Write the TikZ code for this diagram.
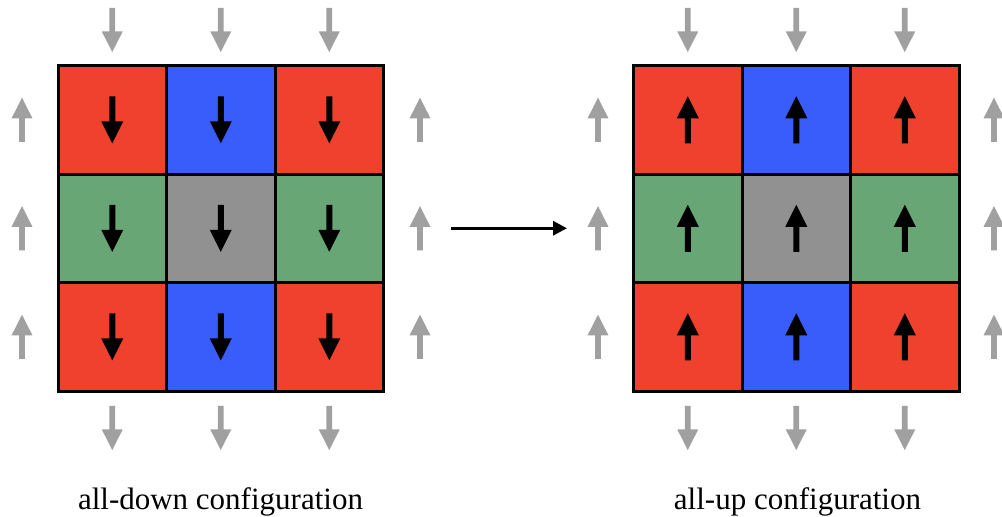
\documentclass[tikz,border=0pt]{standalone}
\usepackage{fontspec}
\setmainfont{Liberation Serif}
\usetikzlibrary{arrows.meta}
\definecolor{cellred}{RGB}{239,65,45}
\definecolor{cellblue}{RGB}{57,93,250}
\definecolor{cellgreen}{RGB}{104,166,117}
\definecolor{cellgray}{RGB}{145,145,145}
\definecolor{fieldgray}{RGB}{160,160,160}
\tikzset{
  cell/.style={draw=black, line width=3pt, minimum size=108.5pt, inner sep=0pt, outer sep=0pt, anchor=center},
  blockarrow/.pic={\path[pic actions] (0,-23.5) -- (11,-1.5) -- (3,-1.5) -- (3,23.5) -- (-3,23.5) -- (-3,-1.5) -- (-11,-1.5) -- cycle;},
  spin/.style={fill=black},
  field/.style={fill=fieldgray, yscale=0.94, xscale=0.95},
  caption/.style={font=\fontsize{31pt}{36pt}\selectfont, anchor=base, inner sep=0pt},
  transition/.style={line width=3pt, -{Triangle[length=14pt,width=14pt]}}
}
\begin{document}
\begin{tikzpicture}[x=1pt,y=-1pt]
\useasboundingbox (0,0) rectangle (1002,517);
\def\rowA{119.75}\def\rowB{228.25}\def\rowC{336.75}
% left grid cells
\node[cell, fill=cellred]   (L11) at (112.25,\rowA) {};
\node[cell, fill=cellblue]  (L12) at (220.75,\rowA) {};
\node[cell, fill=cellred]   (L13) at (329.25,\rowA) {};
\node[cell, fill=cellgreen] (L21) at (112.25,\rowB) {};
\node[cell, fill=cellgray]  (L22) at (220.75,\rowB) {};
\node[cell, fill=cellgreen] (L23) at (329.25,\rowB) {};
\node[cell, fill=cellred]   (L31) at (112.25,\rowC) {};
\node[cell, fill=cellblue]  (L32) at (220.75,\rowC) {};
\node[cell, fill=cellred]   (L33) at (329.25,\rowC) {};
% right grid cells
\node[cell, fill=cellred]   (R11) at (687.75,\rowA) {};
\node[cell, fill=cellblue]  (R12) at (796.25,\rowA) {};
\node[cell, fill=cellred]   (R13) at (904.75,\rowA) {};
\node[cell, fill=cellgreen] (R21) at (687.75,\rowB) {};
\node[cell, fill=cellgray]  (R22) at (796.25,\rowB) {};
\node[cell, fill=cellgreen] (R23) at (904.75,\rowB) {};
\node[cell, fill=cellred]   (R31) at (687.75,\rowC) {};
\node[cell, fill=cellblue]  (R32) at (796.25,\rowC) {};
\node[cell, fill=cellred]   (R33) at (904.75,\rowC) {};
% spins
\foreach \n in {L11,L12,L13,L21,L22,L23,L31,L32,L33}
  \pic[spin, rotate=180] at (\n.center) {blockarrow};
\foreach \n in {R11,R12,R13,R21,R22,R23,R31,R32,R33}
  \pic[spin] at (\n.center) {blockarrow};
% boundary field arrows, left grid
\foreach \x in {112.25,220.75,329.25} {
  \pic[field, rotate=180] at (\x,30) {blockarrow};
  \pic[field, rotate=180] at (\x,428) {blockarrow};
}
\foreach \y in {\rowA,\rowB,\rowC} {
  \pic[field] at (22,\y) {blockarrow};
  \pic[field] at (420,\y) {blockarrow};
}
% boundary field arrows, right grid
\foreach \x in {687.75,796.25,904.75} {
  \pic[field, rotate=180] at (\x,30) {blockarrow};
  \pic[field, rotate=180] at (\x,428) {blockarrow};
}
\foreach \y in {\rowA,\rowB,\rowC} {
  \pic[field] at (598,\y) {blockarrow};
  \pic[field] at (994,\y) {blockarrow};
}
% transition arrow
\coordinate (tstart) at (451,\rowB);
\coordinate (tend) at (567,\rowB);
\draw[transition] (tstart) -- (tend);
% captions
\node[caption] (capL) at (220.5,509) {all-down configuration};
\node[caption] (capR) at (797.5,509) {all-up configuration};
\end{tikzpicture}
\end{document}
